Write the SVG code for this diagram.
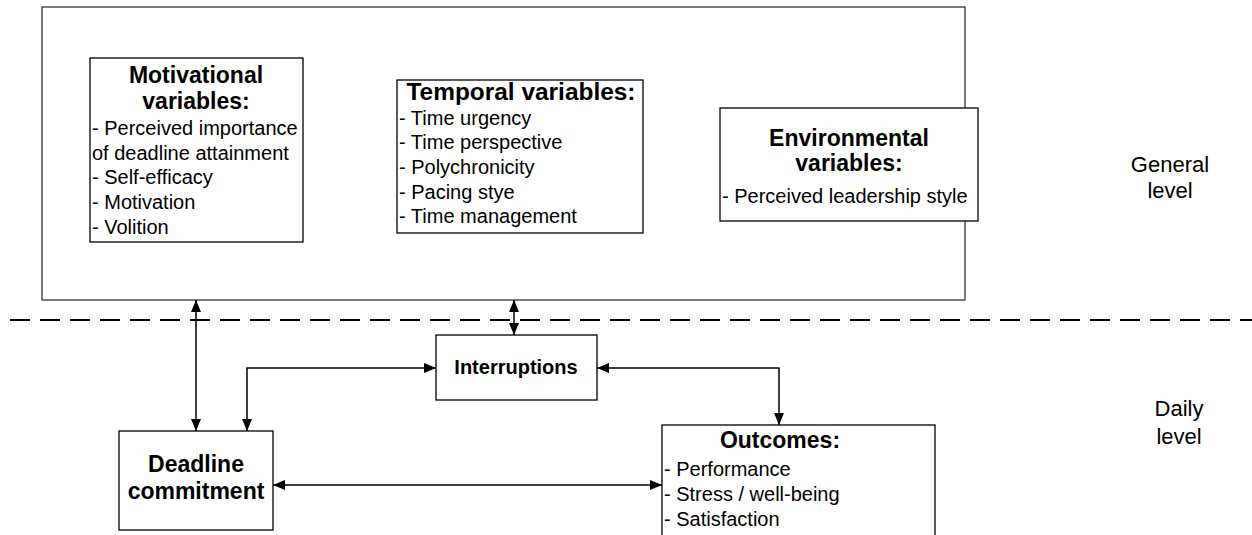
<svg xmlns="http://www.w3.org/2000/svg" width="1252" height="535" viewBox="0 0 1252 535">
<style>
.box{fill:#fff;stroke:#000;stroke-width:1.3}
.t{font-family:"Liberation Sans",Arial,sans-serif;font-weight:bold;font-size:23px;fill:#000;text-anchor:middle}
.i{font-family:"Liberation Sans",Arial,sans-serif;font-size:20px;fill:#000}
.lv{font-family:"Liberation Sans",Arial,sans-serif;font-size:22px;fill:#000;text-anchor:middle}
.c{fill:none;stroke:#000;stroke-width:1.5;marker-start:url(#a);marker-end:url(#a)}
</style>
<defs>
<marker id="a" viewBox="0 0 12 10" refX="12" refY="5" markerWidth="12" markerHeight="10" markerUnits="userSpaceOnUse" orient="auto-start-reverse">
<path d="M0,0 L12,5 L0,10 z" fill="#000"/>
</marker>
</defs>
<rect width="1252" height="535" fill="#fff"/>
<g id="general-level-box"><rect class="box" x="42" y="7" width="923" height="293" style="stroke:#333"/></g>
<g id="motivational">
<rect class="box" x="90" y="58" width="213" height="184"/>
<text class="t" x="196" y="83">Motivational</text>
<text class="t" x="196" y="109">variables:</text>
<text class="i" x="92" y="135">- Perceived importance</text>
<text class="i" x="92" y="160">of deadline attainment</text>
<text class="i" x="92" y="184">- Self-efficacy</text>
<text class="i" x="92" y="209">- Motivation</text>
<text class="i" x="92" y="234">- Volition</text>
</g>
<g id="temporal">
<rect class="box" x="397" y="80" width="246" height="153"/>
<text class="t" x="521" y="100" textLength="229" lengthAdjust="spacingAndGlyphs">Temporal variables:</text>
<text class="i" x="399" y="125">- Time urgency</text>
<text class="i" x="399" y="149">- Time perspective</text>
<text class="i" x="399" y="174">- Polychronicity</text>
<text class="i" x="399" y="199">- Pacing stye</text>
<text class="i" x="399" y="223">- Time management</text>
</g>
<g id="environmental">
<rect class="box" x="720" y="108" width="258" height="113"/>
<text class="t" x="849" y="146">Environmental</text>
<text class="t" x="849" y="171">variables:</text>
<text class="i" x="722" y="203">- Perceived leadership style</text>
</g>
<g id="divider"><line x1="10" y1="320" x2="1252" y2="320" stroke="#000" stroke-width="2" stroke-dasharray="20 10"/></g>
<g id="interruptions">
<rect class="box" x="436" y="335" width="161" height="65"/>
<text class="t" x="516" y="374" style="font-size:20px">Interruptions</text>
</g>
<g id="deadline">
<rect class="box" x="119" y="431" width="154" height="99"/>
<text class="t" x="196" y="472">Deadline</text>
<text class="t" x="196" y="499">commitment</text>
</g>
<g id="outcomes">
<rect class="box" x="662" y="425" width="273" height="120"/>
<text class="t" x="780" y="448">Outcomes:</text>
<text class="i" x="664" y="476">- Performance</text>
<text class="i" x="664" y="501">- Stress / well-being</text>
<text class="i" x="664" y="526">- Satisfaction</text>
</g>
<g id="connectors">
<line class="c" x1="196" y1="300" x2="196" y2="431"/>
<line class="c" x1="514" y1="300" x2="514" y2="335"/>
<polyline class="c" points="247,431 247,368 436,368"/>
<polyline class="c" points="597,368 779,368 779,425"/>
<line class="c" x1="273" y1="485" x2="662" y2="485"/>
</g>
<g id="labels">
<text class="lv" x="1170" y="172">General</text>
<text class="lv" x="1170" y="198">level</text>
<text class="lv" x="1179" y="416">Daily</text>
<text class="lv" x="1179" y="444">level</text>
</g>
</svg>
